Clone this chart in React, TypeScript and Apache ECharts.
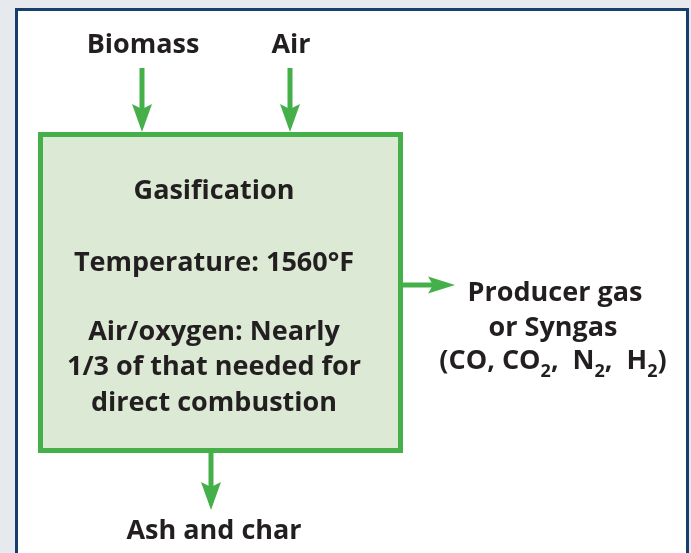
import React, { useEffect, useRef } from "react";
import * as echarts from "echarts";

const inputLabels = ["Biomass", "Air"];
const boxTitle = "Gasification";
const boxLines = ["Temperature: 1560°F", "", "Air/oxygen: Nearly", "1/3 of that needed for", "direct combustion"];
const outputLines = ["Producer gas", "or Syngas"];
const outputFormula = "{n|(CO, CO}{s|2}{n|,  N}{s|2}{n|,  H}{s|2}{n|)}";
const bottomLabel = "Ash and char";

const GREEN = "#45b04a";
const FILL = "#dbe9d5";
const NAVY = "#173f6d";
const TEXT = "#231f20";
const FONT = "'Open Sans', 'Noto Sans', sans-serif";
const FS = 27;

function arrowDown(x: number, y0: number, y1: number) {
  return [
    { type: "line", shape: { x1: x, y1: y0, x2: x, y2: y1 - 22 }, style: { stroke: GREEN, lineWidth: 5 } },
    {
      type: "polygon",
      shape: { points: [[x, y1], [x - 10, y1 - 28], [x, y1 - 23], [x + 10, y1 - 28]] },
      style: { fill: GREEN },
    },
  ];
}

function arrowRight(y: number, x0: number, x1: number) {
  return [
    { type: "line", shape: { x1: x0, y1: y, x2: x1 - 22, y2: y }, style: { stroke: GREEN, lineWidth: 5 } },
    {
      type: "polygon",
      shape: { points: [[x1, y], [x1 - 27, y - 8.5], [x1 - 22, y], [x1 - 27, y + 8.5]] },
      style: { fill: GREEN },
    },
  ];
}

function txt(x: number, y: number, text: string, extra: any = {}) {
  return {
    type: "text",
    x,
    y,
    style: {
      text,
      fill: TEXT,
      font: `bold ${FS}px ${FONT}`,
      textAlign: "center",
      textVerticalAlign: "middle",
      ...extra,
    },
  };
}

export default function App() {
  const ref = useRef<HTMLDivElement>(null);
  useEffect(() => {
    if (!ref.current) return;
    const chart = echarts.init(ref.current, null, { renderer: "svg" });
    const inputXs = [142, 290];
    const elements: any[] = [
      { type: "rect", shape: { x: 0, y: 0, width: 691, height: 553 }, style: { fill: "#e6e9ee" } },
      { type: "rect", shape: { x: 16.5, y: 9.5, width: 671, height: 620 }, style: { fill: "#ffffff", stroke: NAVY, lineWidth: 3 } },
      { type: "rect", shape: { x: 40.5, y: 134.5, width: 360, height: 316 }, style: { fill: FILL, stroke: GREEN, lineWidth: 5 } },
    ];
    inputLabels.forEach((l, i) => {
      elements.push(txt(inputXs[i] + 1, 42, l));
      elements.push(...arrowDown(inputXs[i], 68, 132));
    });
    elements.push(txt(214, 188, boxTitle));
    const lineYs = [260, 294, 329, 364, 400];
    boxLines.forEach((l, i) => {
      if (l) elements.push(txt(214, lineYs[i], l));
    });
    elements.push(...arrowRight(285, 403, 455));
    elements.push(txt(555, 290, outputLines[0]));
    elements.push(txt(553, 325, outputLines[1]));
    elements.push({
      type: "text",
      x: 553,
      y: 360,
      style: {
        text: outputFormula,
        textAlign: "center",
        textVerticalAlign: "middle",
        rich: {
          n: { fontSize: FS, fontWeight: "bold", fontFamily: FONT, fill: TEXT, lineHeight: 30, verticalAlign: "top" },
          s: { fontSize: 18, fontWeight: "bold", fontFamily: FONT, fill: TEXT, lineHeight: 14, verticalAlign: "top", padding: [16, 0, 0, 0] },
        },
      },
    });
    elements.push(...arrowDown(211, 453, 510));
    elements.push(txt(214, 528, bottomLabel));

    chart.setOption({ animation: false, graphic: { elements } });
    return () => chart.dispose();
  }, []);
  return <div ref={ref} style={{ position: "fixed", left: 0, top: 0, width: 691, height: 553 }} />;
}
